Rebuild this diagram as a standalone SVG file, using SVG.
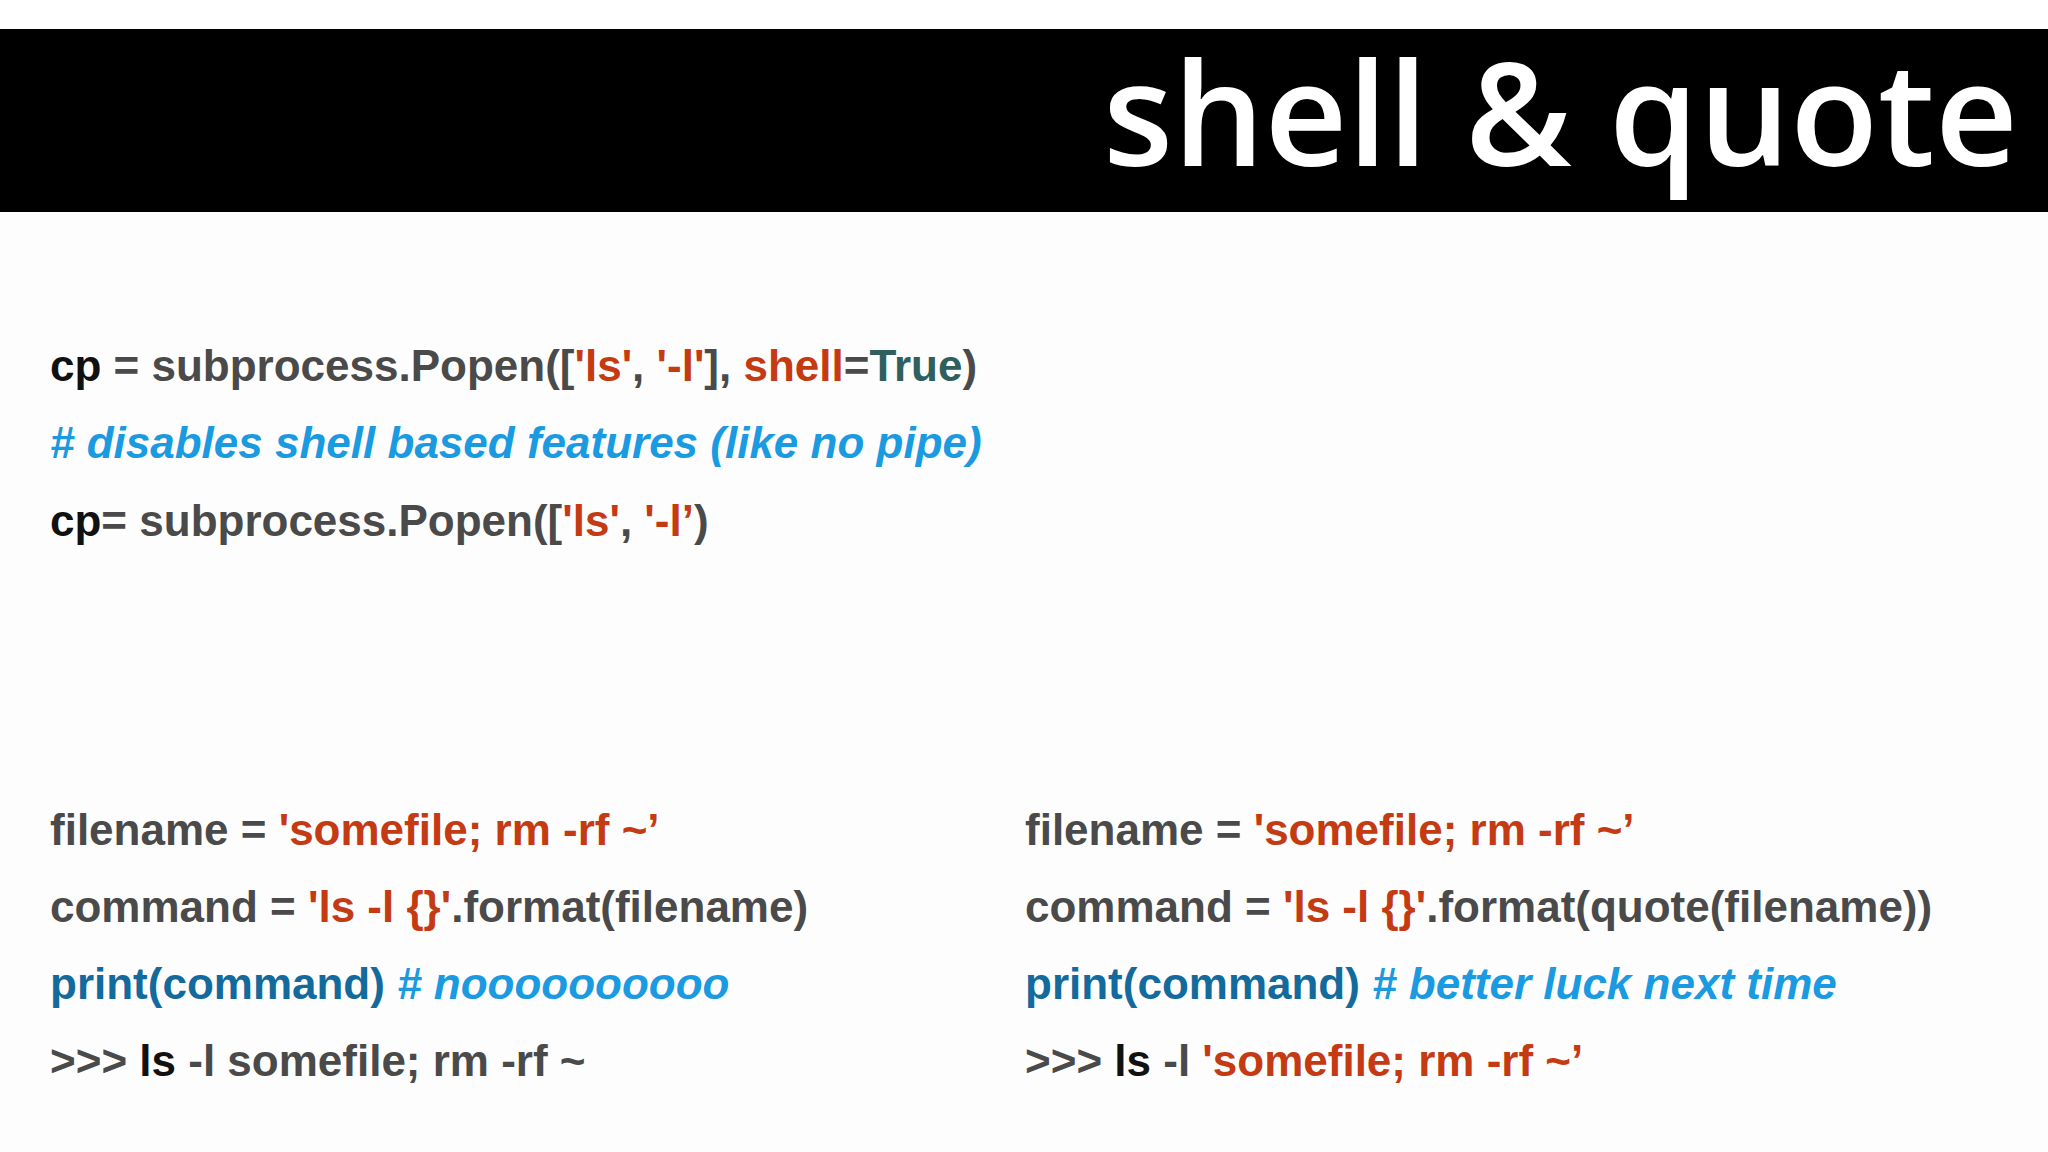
<svg xmlns="http://www.w3.org/2000/svg" width="2048" height="1152" viewBox="0 0 2048 1152">
<style>
.c{font-family:"Liberation Sans",Arial,sans-serif;font-size:44px;font-weight:bold;fill:#4a4a4a}
.k{fill:#111}
.r{fill:#c43a12}
.t{fill:#2f5f5e}
.b{fill:#1a9ae0;font-style:italic}
.p{fill:#136a9c}
</style>
<rect width="2048" height="1152" fill="#fdfdfd"/>
<rect width="2048" height="29" fill="#fff"/>
<g id="title">
<rect x="0" y="29" width="2048" height="183" fill="#000"/>
<text x="2018" y="166" text-anchor="end" font-family="'Open Sans',sans-serif" font-weight="600" font-size="144" fill="#fff">shell &amp; quote</text>
</g>
<g id="top">
<text class="c" x="50" y="381"><tspan class="k">cp</tspan> = subprocess.Popen([<tspan class="r">'ls'</tspan>, <tspan class="r">'-l'</tspan>], <tspan class="r">shell</tspan>=<tspan class="t">True</tspan>)</text>
<text class="c b" x="50" y="458"># disables shell based features (like no pipe)</text>
<text class="c" x="50" y="536"><tspan class="k">cp</tspan>= subprocess.Popen([<tspan class="r">'ls'</tspan>, <tspan class="r">'-l’</tspan>)</text>
</g>
<g id="left">
<text class="c" x="50" y="845">filename = <tspan class="r">'somefile; rm -rf ~’</tspan></text>
<text class="c" x="50" y="922">command = <tspan class="r">'ls -l {}'</tspan>.format(filename)</text>
<text class="c" x="50" y="999"><tspan class="p">print(command)</tspan>  <tspan class="b"># noooooooooo</tspan></text>
<text class="c" x="50" y="1076">&gt;&gt;&gt; <tspan class="k">ls</tspan> -l somefile; rm -rf ~</text>
</g>
<g id="right">
<text class="c" x="1025" y="845">filename = <tspan class="r">'somefile; rm -rf ~’</tspan></text>
<text class="c" x="1025" y="922">command = <tspan class="r">'ls -l {}'</tspan>.format(quote(filename))</text>
<text class="c" x="1025" y="999"><tspan class="p">print(command)</tspan> <tspan class="b"># better luck next time</tspan></text>
<text class="c" x="1025" y="1076">&gt;&gt;&gt; <tspan class="k">ls</tspan> -l <tspan class="r">'somefile; rm -rf ~’</tspan></text>
</g>
<g id="connectors"/>
</svg>
